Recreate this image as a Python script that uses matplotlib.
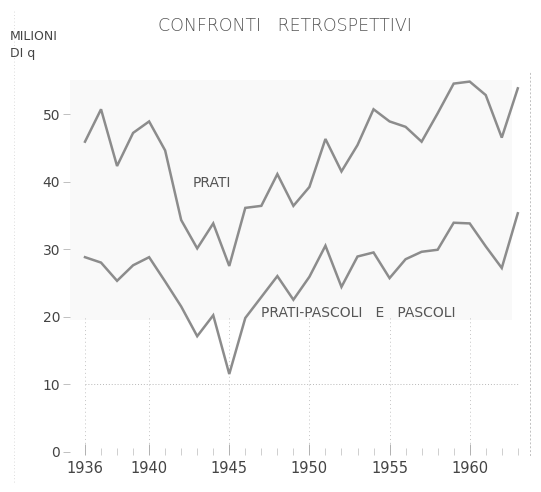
import matplotlib
matplotlib.use("Agg")
import matplotlib.pyplot as plt
from matplotlib.lines import Line2D

years = list(range(1936, 1964))
prati = [45.9, 50.7, 42.3, 47.2, 48.9, 44.6, 34.3, 30.1, 33.8, 27.5,
         36.1, 36.4, 41.1, 36.4, 39.2, 46.3, 41.5, 45.4, 50.7, 48.9,
         48.1, 45.9, 50.1, 54.5, 54.8, 52.8, 46.5, 53.8]
prati_pascoli = [28.8, 28.0, 25.3, 27.6, 28.8, 25.2, 21.5, 17.1, 20.2, 11.5,
                 19.8, 22.9, 26.0, 22.5, 25.9, 30.5, 24.4, 28.9, 29.5, 25.7,
                 28.5, 29.6, 29.9, 33.9, 33.8, 30.4, 27.2, 35.3]
xtick_years = [1936, 1940, 1945, 1950, 1955, 1960]
ytick_vals = [0, 10, 20, 30, 40, 50]

W, H = 541, 492
fig = plt.figure(figsize=(W / 100, H / 100), dpi=100)
fig.patch.set_facecolor("white")

left_px, right_px, top_px, bot_px = 70, 530, 70, 455
ax = fig.add_axes([left_px / W, 1 - bot_px / H,
                   (right_px - left_px) / W, (bot_px - top_px) / H])

# x mapping: 1936 -> 85 px, 1963 -> 517.8 px
ypp = 27 / 432.8
ax.set_xlim(1936 - (85 - left_px) * ypp, 1963 + (right_px - 517.8) * ypp)
# y mapping: 0 -> 451.7 px, 6.754 px per unit
upp = 1 / 6.754
ylo, yhi = -(bot_px - 451.7) * upp, (451.7 - top_px) * upp
ax.set_ylim(ylo, yhi)

# faint scanned background band
ax.axhspan(19.5, 55, xmin=0.0, xmax=0.96, color="#f9f9f9", zorder=0, lw=0)

line_col = "#8c8c8c"
ax.plot(years, prati, color=line_col, lw=1.8, solid_joinstyle="miter", zorder=3)
ax.plot(years, prati_pascoli, color=line_col, lw=1.8, solid_joinstyle="miter", zorder=3)

# faint dotted grid (lower part only, as in the scan)
gtop = (20 - ylo) / (yhi - ylo)
for yv in xtick_years:
    ax.axvline(yv, ymin=0, ymax=gtop, color="#c4c4c4", lw=0.7,
               ls=(0, (1, 3)), zorder=1)
ax.plot([1936, 1963], [10, 10], color="#b8b8b8", lw=0.7, ls=(0, (1, 2)), zorder=1)

for s in ["top", "left", "bottom"]:
    ax.spines[s].set_visible(False)
ax.spines["right"].set_color("#c0c0c0")
ax.spines["right"].set_linestyle((0, (1, 3)))
ax.spines["right"].set_linewidth(0.7)

ax.set_xticks(xtick_years)
ax.set_xticklabels([str(y) for y in xtick_years], fontsize=10.5, color="#444444")
ax.set_xticks(years, minor=True)
ax.tick_params(axis="x", which="major", direction="in", length=8,
               color="#b0b0b0", width=0.7, pad=4)
ax.tick_params(axis="x", which="minor", direction="in", length=5,
               color="#c8c8c8", width=0.6)
ax.set_yticks(ytick_vals)
ax.set_yticklabels([str(v) for v in ytick_vals], fontsize=10, color="#444444")
ax.tick_params(axis="y", which="major", direction="out", length=5,
               color="#c0c0c0", width=0.7, pad=2)

# in-plot labels
ax.text(1943.9, 39.8, "PRATI", fontsize=10, color="#555555",
        ha="center", va="center", zorder=4)
ax.text(1947.0, 20.5, "PRATI-PASCOLI   E   PASCOLI", fontsize=10,
        color="#555555", ha="left", va="center", zorder=4)

# title and unit label
fig.text(285 / W, 1 - 26 / H, "CONFRONTI   RETROSPETTIVI", fontsize=12.5,
         color="#555555", ha="center", va="center", fontweight="light")
fig.text(10 / W, 1 - 37 / H, "MILIONI", fontsize=9, color="#444444",
         ha="left", va="center")
fig.text(10 / W, 1 - 54 / H, "DI q", fontsize=9, color="#444444",
         ha="left", va="center")

# scan edge dotted line on the left
fig.add_artist(Line2D([14 / W, 14 / W], [0.02, 0.98], color="#d0d0d0",
                      lw=0.6, ls=(0, (1, 3))))

fig.savefig("out.png", dpi=100, facecolor="white")
